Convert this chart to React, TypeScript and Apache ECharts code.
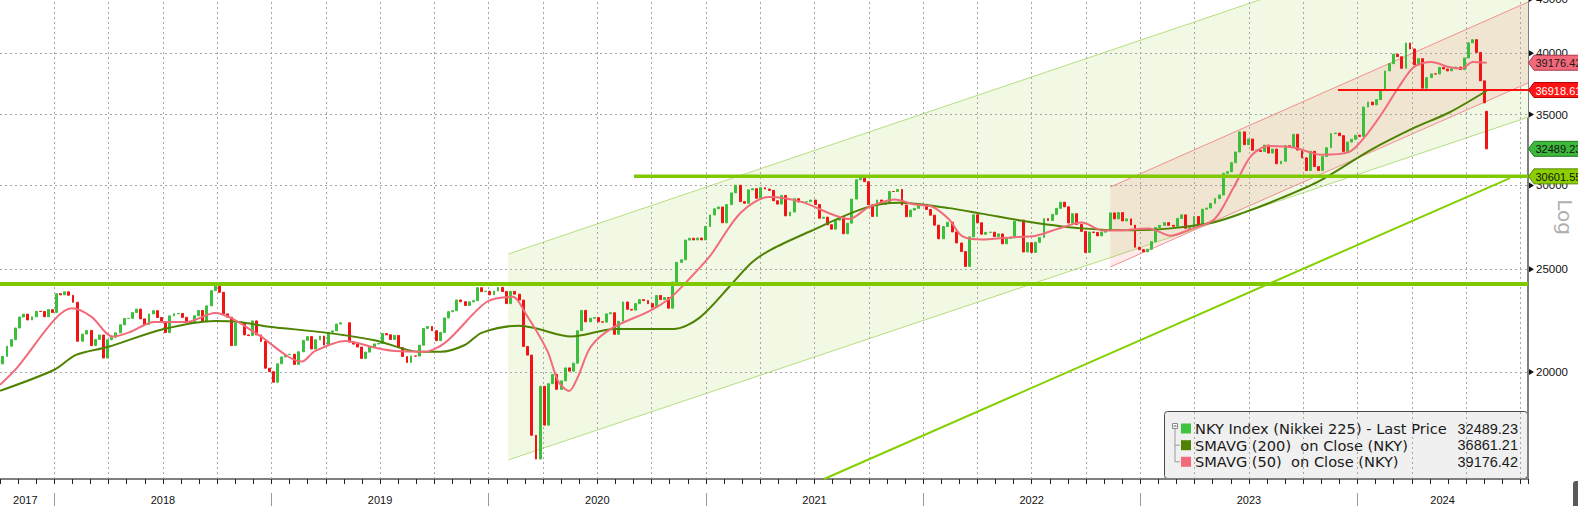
import React, { useEffect, useRef } from "react";
import * as echarts from "echarts";

// ---------------- data (weekly closes, week ending Friday) ----------------
const firstWeekEnding = [2017, 10, 6];
const priorClose = 20356;
const close2017 = [20691, 21155, 21457, 22008, 22539, 22681, 22397, 22551, 22819, 22811, 22553, 22902, 22765];
const close2018 = [23715, 23654, 23808, 23632, 23274, 21383, 21720, 21893, 21182, 21469, 21676, 20618, 21454, 21568, 21778, 22162, 22468, 22473, 22758, 22930, 22450, 22171, 22694, 22851, 22517, 22305, 21788, 22597, 22698, 22713, 22525, 22298, 22270, 22601, 22865, 22307, 23094, 23870, 24120, 23784, 22694, 22532, 21184, 22243, 22250, 21680, 21647, 22351, 21679, 21375, 20166, 20015];
const close2019 = [19562, 20360, 20666, 20774, 20788, 20333, 20900, 21426, 21602, 21025, 21451, 21627, 21206, 21807, 21871, 22200, 22259, null, 21345, 21250, 21117, 20601, 20885, 21117, 21259, 21276, 21746, 21686, 21467, 21658, 21088, 20685, 20419, 20711, 20704, 21200, 21988, 22079, 21879, 21410, 21799, 22493, 22800, 22851, 23392, 23303, 23113, 23294, 23354, 24023, 23817, 23838];
const close2020 = [23657, 23850, 24041, 23827, 23205, 23828, 23688, 23387, 21143, 20750, 17431, 16553, 19389, 17820, 19499, 19897, 19262, 19619, 20179, 20037, 20388, 21878, 22864, 22305, 22479, 22512, 22306, 22291, 22696, 22751, 21710, 22329, 23289, 22920, 22882, 23205, 23406, 23360, 23205, 23030, 23620, 23411, 23516, 22977, 24325, 25385, 25527, 26644, 26751, 26652, 26763, 26656];
const close2021 = [27444, 28139, 28519, 28631, 27663, 28779, 29520, 30018, 28966, 28864, 29717, 29792, 29176, 29854, 29768, 29683, 29020, 28812, 29357, 28084, 28317, 29149, 28941, 28948, 28964, 29066, 28783, 27940, 28003, 27548, 27283, 27820, 27977, 27013, 27641, 29128, 30381, 30500, 30249, 28771, 28049, 29069, 28805, 28893, 29612, 29610, 29746, 28752, 28030, 28437, 28546, 28782, 28792];
const close2022 = [28479, 28124, 27522, 26717, 27440, 27696, 27122, 26476, 25985, 25163, 26827, 28149, 27666, 26985, 27093, 27105, 26848, 27003, 26427, 26739, 26781, 27761, 27824, 25963, 26491, 25936, 26517, 26788, 27915, 27802, 28176, 28547, 28930, 28641, 27650, 28214, 27568, 27154, 25937, 27116, 27091, 26891, 27105, 27199, 28264, 27900, 28283, 27778, 27901, 27527, 26235, 26095];
const close2023 = [25974, 26120, 26554, 27383, 27509, 27671, 27513, 27454, 27927, 28144, 27334, 27385, 28041, 27518, 28493, 28564, 28856, 29158, 29388, 30808, 30916, 31524, 32265, 33706, 32782, 33189, 32388, 32391, 32304, 32759, 32193, 32474, 31451, 31624, 32711, 32606, 33533, 32402, 31858, 30995, 32316, 31259, 30991, 31950, 32568, 33585, 33625, 33431, 32307, 32971, 33169, 33464];
const close2024 = [33377, 35577, 35963, 35751, 36158, 36897, 38487, 39098, 39911, 39689, 38707, 40888, 40369, 38992, 39523, 37068, 37934, 38236, 38229, 38787, 38646, 38488, 38683, 38815, 38596, 39583, 40912, 41190, 40063, 37667, 35910];
const lastSession = { date: [2024, 8, 5], open: 35250, close: 32489.23 };

// moving averages: [decimal year, value]
const sma200 = [[2017.75, 19200], [2018.0, 20100], [2018.10, 20760], [2018.25, 21130], [2018.50, 21950], [2018.74, 22350], [2018.85, 22300], [2018.99, 22070], [2019.24, 21800], [2019.48, 21420], [2019.68, 20900], [2019.78, 20900], [2019.89, 21210], [2019.97, 21790], [2020.14, 22120], [2020.21, 22010], [2020.38, 21600], [2020.58, 21960], [2020.85, 21960], [2020.97, 22500], [2021.12, 24230], [2021.21, 25360], [2021.30, 26100], [2021.47, 27100], [2021.73, 28560], [2021.89, 28900], [2022.12, 28560], [2022.27, 28220], [2022.50, 27700], [2022.73, 27330], [2022.96, 27220], [2023.14, 27330], [2023.34, 27700], [2023.47, 28250], [2023.65, 29200], [2023.83, 30340], [2024.06, 32400], [2024.26, 34000], [2024.42, 35140], [2024.595, 36861.21]];
const sma50 = [[2017.75, 19450], [2017.83, 20200], [2018.0, 22400], [2018.08, 22970], [2018.17, 22560], [2018.27, 21600], [2018.35, 21820], [2018.46, 22300], [2018.61, 22300], [2018.74, 22740], [2018.82, 22460], [2018.94, 21680], [2019.14, 20460], [2019.20, 20930], [2019.34, 21400], [2019.48, 21080], [2019.57, 20930], [2019.70, 20900], [2019.80, 21320], [2019.99, 23290], [2020.11, 23550], [2020.17, 22710], [2020.27, 20940], [2020.32, 19600], [2020.37, 19190], [2020.41, 19780], [2020.47, 21130], [2020.57, 22010], [2020.74, 22830], [2020.83, 23440], [2020.90, 24200], [2021.01, 25600], [2021.04, 26100], [2021.16, 28280], [2021.29, 29260], [2021.44, 28950], [2021.58, 28180], [2021.66, 27890], [2021.75, 28620], [2021.87, 29100], [2021.96, 28780], [2022.04, 28660], [2022.12, 27860], [2022.18, 26870], [2022.27, 26670], [2022.40, 26800], [2022.52, 26900], [2022.62, 27300], [2022.73, 27680], [2022.83, 27200], [2022.93, 27220], [2023.04, 27330], [2023.14, 26900], [2023.24, 27330], [2023.34, 27860], [2023.43, 29880], [2023.51, 31990], [2023.59, 32690], [2023.71, 32570], [2023.83, 32080], [2023.96, 32260], [2024.03, 33270], [2024.11, 35030], [2024.19, 37160], [2024.26, 38820], [2024.34, 39240], [2024.42, 38820], [2024.48, 38680], [2024.53, 39240], [2024.595, 39176.42]];

// annotations (decimal year, price)
const level2018High = { from: 2017.75, to: 2024.785, value: 24220 };
const levelSupport = { from: 2020.669, to: 2024.785, value: 30601.55 };
const levelRed = { from: 2023.91, to: 2024.785, value: 36918.61 };
const greenChannel = { start: 2020.09, end: 2024.785, lowStart: 16520, highStart: 25850, lowEnd: 34800, highEnd: 54700 };
const pinkChannel = { start: 2022.862, end: 2024.785, lowStart: 25130, highStart: 29900, lowEnd: 37490, highEnd: 44700 };
const trendLine = [[2021.544, 15850], [2024.702, 30490]];

const yTicks = [20000, 25000, 30000, 35000, 40000];
const yTopTick = 45000;
const yearLabels = [2017, 2018, 2019, 2020, 2021, 2022, 2023, 2024];
const legendRows = [
  { name: "NKY Index (Nikkei 225) - Last Price", value: "32489.23", color: "#3ec43e" },
  { name: "SMAVG (200)\u00a0 on Close (NKY)", value: "36861.21", color: "#4e8200" },
  { name: "SMAVG (50)\u00a0 on Close (NKY)", value: "39176.42", color: "#f26b7b" },
];
const tags = [
  { value: 39176.42, label: "39176.42", fill: "#f4687c", stroke: "#a83a48", text: "#1a1a1a" },
  { value: 36918.61, label: "36918.61", fill: "#ff1414", stroke: "#b00000", text: "#ffffff" },
  { value: 32489.23, label: "32489.23", fill: "#3cb83c", stroke: "#237a23", text: "#111111" },
  { value: 30601.55, label: "30601.55", fill: "#8ccf00", stroke: "#5c8a00", text: "#111111" },
];

// ---------------- helpers ----------------
const X_MIN = 9; // months since Jan 2017 (Oct 2017)
const X_MAX = 93.42;
const yearToM = (y: number) => (y - 2017) * 12;
const dateToM = (d: Date) => {
  const y = d.getUTCFullYear(), m = d.getUTCMonth(), day = d.getUTCDate();
  const dim = new Date(Date.UTC(y, m + 1, 0)).getUTCDate();
  return (y - 2017) * 12 + m + (day - 1) / dim;
};

function buildCandles() {
  const closes = [...close2017, ...close2018, ...close2019, ...close2020, ...close2021, ...close2022, ...close2023, ...close2024];
  const start = Date.UTC(firstWeekEnding[0], firstWeekEnding[1] - 1, firstWeekEnding[2]);
  const out: number[][] = [];
  let prev = priorClose;
  closes.forEach((c, i) => {
    if (c == null) return;
    const x = dateToM(new Date(start + i * 7 * 86400000));
    out.push([x, prev, c, Math.min(prev, c), Math.max(prev, c)]);
    prev = c;
  });
  const ld = lastSession.date;
  const lx = dateToM(new Date(Date.UTC(ld[0], ld[1] - 1, ld[2])));
  out.push([lx, lastSession.open, lastSession.close, Math.min(lastSession.open, lastSession.close), Math.max(lastSession.open, lastSession.close)]);
  return out;
}

function channelSeries(ch: any, fill: string, stroke: string, z: number) {
  return {
    type: "custom",
    coordinateSystem: "cartesian2d",
    clip: true,
    silent: true,
    z,
    data: [[yearToM(ch.start), ch.lowStart]],
    renderItem: (_p: any, api: any) => {
      const a = api.coord([yearToM(ch.start), ch.lowStart]);
      const b = api.coord([yearToM(ch.end), ch.lowEnd]);
      const c = api.coord([yearToM(ch.end), ch.highEnd]);
      const d = api.coord([yearToM(ch.start), ch.highStart]);
      return {
        type: "group",
        children: [
          { type: "polygon", shape: { points: [a, b, c, d] }, style: { fill } },
          { type: "line", shape: { x1: a[0], y1: a[1], x2: b[0], y2: b[1] }, style: { stroke, lineWidth: 1 } },
          { type: "line", shape: { x1: d[0], y1: d[1], x2: c[0], y2: c[1] }, style: { stroke, lineWidth: 1 } },
        ],
      };
    },
  };
}

function levelSeries(lv: any, color: string, width: number) {
  return {
    type: "line",
    data: [[yearToM(lv.from), lv.value], [yearToM(lv.to), lv.value]],
    symbol: "none",
    silent: true,
    z: 5,
    lineStyle: { color, width },
  };
}

const AX_FONT = "Liberation Sans";
const LEG_FONT = '"DejaVu Sans", "Liberation Sans", sans-serif';
const LEG_NUM_FONT = '"Liberation Sans", sans-serif';

export default function App() {
  const ref = useRef<HTMLDivElement>(null);

  useEffect(() => {
    if (!ref.current) return;
    const chart = echarts.init(ref.current, null, { renderer: "svg" });
    const candles = buildCandles();

    const quarterMonths: number[] = [];
    for (let m = 12; m <= 93; m += 3) quarterMonths.push(m);
    const yearBounds = yearLabels.slice(1).map((y) => yearToM(y));
    const yearLabelPos = [10.4, 18, 30, 42, 54, 66, 78, 88.7];

    const option: any = {
      animation: false,
      backgroundColor: "#ffffff",
      grid: { left: 0, right: 50, top: 0, bottom: 27, containLabel: false },
      xAxis: [
        {
          type: "value",
          min: X_MIN,
          max: X_MAX,
          interval: 1,
          axisLine: { show: true, onZero: false, lineStyle: { color: "#7f7f7f", width: 2 } },
          axisTick: { show: true, length: 5, lineStyle: { color: "#222", width: 1 } },
          axisLabel: { show: false },
          splitLine: { show: false },
        },
        {
          type: "value",
          min: X_MIN,
          max: X_MAX,
          position: "bottom",
          offset: 14,
          axisLine: { show: false },
          axisTick: { show: true, customValues: yearBounds, length: 14, lineStyle: { color: "#9a9a9a", width: 1 } },
          axisLabel: {
            show: true,
            customValues: yearLabelPos,
            margin: 1,
            fontSize: 11,
            fontFamily: AX_FONT,
            color: "#111",
            formatter: (v: number) => String(2017 + Math.floor(v / 12)),
          },
          splitLine: { show: false },
        },
      ],
      yAxis: {
        type: "log",
        logBase: 10,
        min: 15850,
        max: 44900,
        position: "right",
        axisLine: { show: true, onZero: false, lineStyle: { color: "#7f7f7f", width: 2 } },
        axisTick: { show: false },
        axisLabel: { show: false },
        splitLine: { show: false },
      },
      series: [
        channelSeries(greenChannel, "#f1f8e3", "#b6df82", 1),
        channelSeries(pinkChannel, "rgba(238,96,80,0.12)", "#f29090", 1.5),
        {
          type: "line",
          data: [[X_MIN, 20000]],
          symbol: "none",
          silent: true,
          lineStyle: { opacity: 0 },
          z: 2,
          markLine: {
            silent: true,
            symbol: "none",
            z: 2,
            animation: false,
            lineStyle: { color: "#a6a6a6", type: [2, 3], width: 1 },
            label: { show: false },
            emphasis: { disabled: true },
            data: [
              ...quarterMonths.map((m) => ({ xAxis: m, label: { show: false } })),
              ...yTicks.map((v) => ({
                yAxis: v,
                label: {
                  show: true,
                  position: "end",
                  distance: 8,
                  formatter: String(v),
                  color: "#111",
                  fontSize: 11.5,
                  fontFamily: AX_FONT,
                },
              })),
            ],
          },
        },
        {
          type: "candlestick",
          data: candles,
          dimensions: ["x", "open", "close", "low", "high"],
          encode: { x: 0, y: [1, 2, 3, 4] },
          barWidth: 2.4,
          z: 3,
          silent: true,
          itemStyle: {
            color: "#3cbf3c",
            color0: "#f01414",
            borderColor: "#3cbf3c",
            borderColor0: "#f01414",
            borderWidth: 1,
          },
        },
        {
          type: "line",
          data: sma200.map((p) => [yearToM(p[0]), p[1]]),
          symbol: "none",
          smooth: 0.3,
          silent: true,
          z: 4,
          lineStyle: { color: "#4e8200", width: 2 },
        },
        {
          type: "line",
          data: sma50.map((p) => [yearToM(p[0]), p[1]]),
          symbol: "none",
          smooth: 0.3,
          silent: true,
          z: 4,
          lineStyle: { color: "#f26b7b", width: 2 },
        },
        levelSeries(level2018High, "#80c800", 4),
        levelSeries(levelSupport, "#80c800", 3.5),
        levelSeries(levelRed, "#ff1010", 2),
        {
          type: "line",
          data: trendLine.map((p) => [yearToM(p[0]), p[1]]),
          symbol: "none",
          silent: true,
          z: 5,
          lineStyle: { color: "#84d000", width: 2 },
        },
      ],
    };
    chart.setOption(option);

    const yPix = (v: number) => chart.convertToPixel({ yAxisIndex: 0 }, v) as number;
    const axisX = 1528;

    const graphics: any[] = [];
    // tick arrows on right axis
    [...yTicks, yTopTick].forEach((v) => {
      const y = yPix(v);
      graphics.push({
        type: "polygon",
        z: 15,
        silent: true,
        shape: { points: [[axisX + 1, y - 3], [axisX + 6, y], [axisX + 1, y + 3]] },
        style: { fill: "#111" },
      });
    });
    // top tick label (partly above the frame)
    graphics.push({
      type: "text",
      z: 15,
      silent: true,
      x: axisX + 8,
      y: yPix(yTopTick),
      style: { text: String(yTopTick), fill: "#111", font: `11.5px ${AX_FONT}`, align: "left", verticalAlign: "middle", textAlign: "left", textVerticalAlign: "middle" },
    });
    // value tags
    tags.forEach((t) => {
      const y = yPix(t.value);
      graphics.push({
        type: "group",
        z: 20,
        silent: true,
        children: [
          {
            type: "polygon",
            z: 20,
            shape: { points: [[axisX + 0.5, y], [axisX + 6, y - 7.5], [1600, y - 7.5], [1600, y + 7.5], [axisX + 6, y + 7.5]] },
            style: { fill: t.fill, stroke: t.stroke, lineWidth: 1 },
          },
          {
            type: "text",
            z: 21,
            x: axisX + 7.5,
            y: y + 0.5,
            style: { text: t.label, fill: t.text, font: `11px ${AX_FONT}`, align: "left", verticalAlign: "middle", textAlign: "left", textVerticalAlign: "middle" },
          },
        ],
      });
    });
    // Log label
    graphics.push({
      type: "text",
      z: 20,
      x: 1565,
      y: 217,
      rotation: -Math.PI / 2,
      silent: true,
      style: { text: "Log", fill: "#b0b0b0", font: '20px "DejaVu Sans", sans-serif', align: "center", verticalAlign: "middle", textAlign: "center", textVerticalAlign: "middle" },
    });
    // scroll handle at bottom right
    graphics.push({
      type: "rect",
      z: 20,
      silent: true,
      shape: { x: 1573, y: 481, width: 10, height: 30, r: 3 },
      style: { fill: "#5a5a5a" },
    });
    // legend box
    const lx = 1164, ly = 411, lw = 364, lh = 67;
    const rowY = [428.5, 445.2, 461.8];
    const legendChildren: any[] = [
      { type: "rect", shape: { x: lx + 0.5, y: ly + 0.5, width: lw - 1, height: lh, r: 3 }, style: { fill: "#f0f0f0", stroke: "#4a4a4a", lineWidth: 1 } },
      { type: "rect", shape: { x: 1172.5, y: 423.5, width: 5, height: 5 }, style: { fill: "#ffffff", stroke: "#8a8a8a", lineWidth: 1 } },
      { type: "line", shape: { x1: 1173.5, y1: 426, x2: 1176.5, y2: 426 }, style: { stroke: "#555", lineWidth: 1 } },
      { type: "polyline", shape: { points: [[1175, 429], [1175, rowY[2]], [1180, rowY[2]]] }, style: { stroke: "#9a9a9a", lineWidth: 1, fill: null } },
      { type: "line", shape: { x1: 1175, y1: rowY[1], x2: 1180, y2: rowY[1] }, style: { stroke: "#9a9a9a", lineWidth: 1 } },
    ];
    legendRows.forEach((r, i) => {
      legendChildren.push({ type: "rect", shape: { x: 1181, y: rowY[i] - 5, width: 10, height: 10 }, style: { fill: r.color } });
      legendChildren.push({
        type: "text",
        x: 1195,
        y: rowY[i],
        style: { text: r.name, fill: "#1a1a1a", font: `14.6px ${LEG_FONT}`, align: "left", verticalAlign: "middle", textAlign: "left", textVerticalAlign: "middle" },
      });
      legendChildren.push({
        type: "text",
        x: 1518,
        y: rowY[i],
        style: { text: r.value, fill: "#1a1a1a", font: `14.5px ${LEG_NUM_FONT}`, align: "right", verticalAlign: "middle", textAlign: "right", textVerticalAlign: "middle" },
      });
    });
    graphics.push({ type: "group", z: 30, silent: true, children: legendChildren });

    chart.setOption({ graphic: graphics });

    return () => chart.dispose();
  }, []);

  return (
    <div
      ref={ref}
      style={{ position: "fixed", left: 0, top: 0, width: 1578, height: 506, background: "#ffffff" }}
    />
  );
}
